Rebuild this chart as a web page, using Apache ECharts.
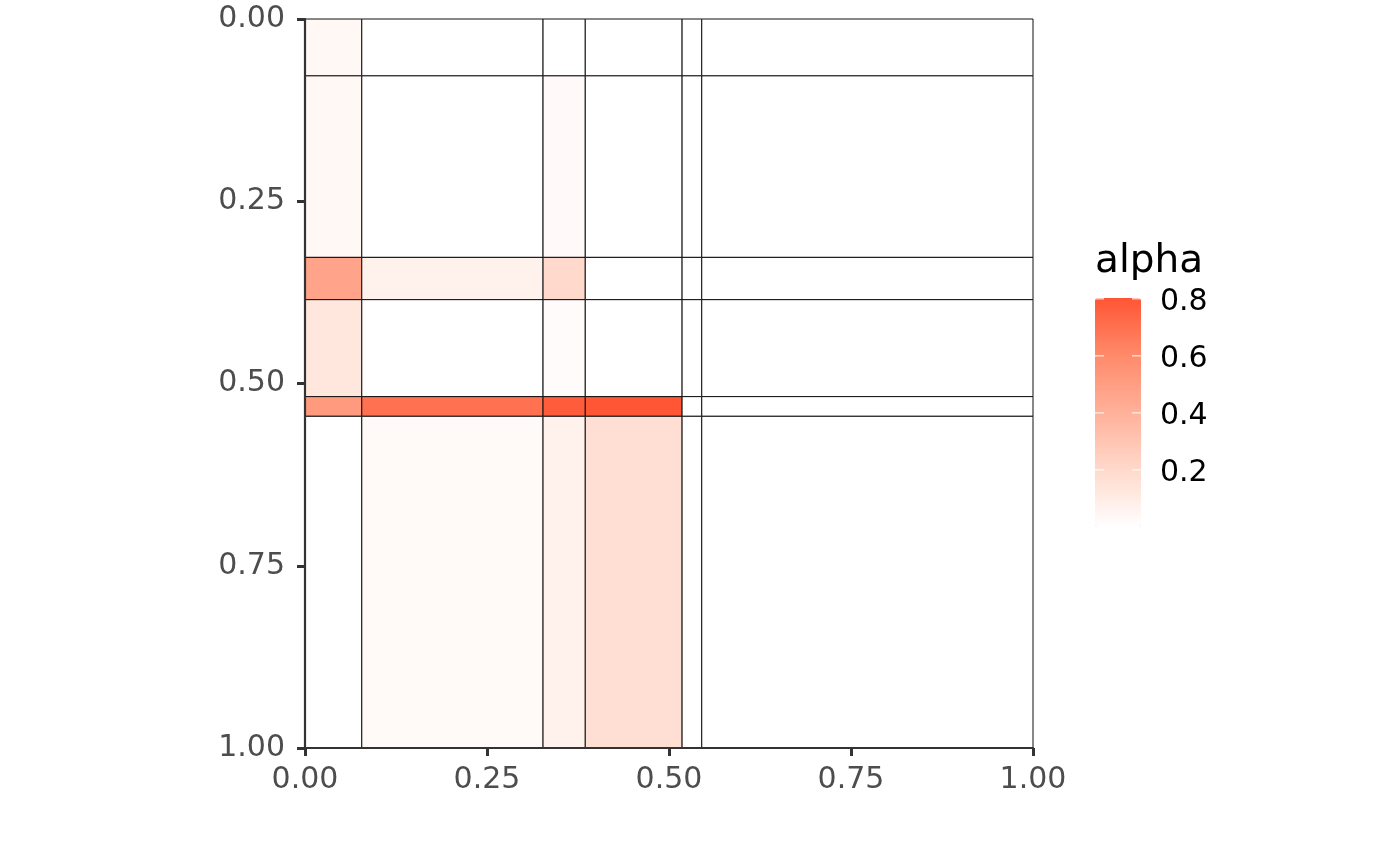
<!DOCTYPE html>
<html>
<head>
<meta charset="utf-8">
<script src="https://cdn.jsdelivr.net/npm/echarts@6/dist/echarts.min.js"></script>
<style>
html,body{margin:0;padding:0;background:#fff;}
#chart{width:1400px;height:865px;}
</style>
</head>
<body>
<div id="chart"></div>
<script>
// ---- data ----
var xBreaks = [0, 0.078, 0.327, 0.385, 0.518, 0.545, 1];
var yBreaks = [0, 0.078, 0.327, 0.385, 0.518, 0.545, 1];
// rows = y bands (top to bottom), columns = x bands (left to right)
var alphaRow0 = [0.038, 0, 0, 0, 0, 0];
var alphaRow1 = [0.038, 0, 0.025, 0, 0, 0];
var alphaRow2 = [0.47, 0.076, 0.2, 0, 0, 0];
var alphaRow3 = [0.128, 0, 0.02, 0, 0, 0];
var alphaRow4 = [0.52, 0.70, 0.78, 0.803, 0, 0];
var alphaRow5 = [0, 0.028, 0.07, 0.175, 0, 0];
var alphaRows = [alphaRow0, alphaRow1, alphaRow2, alphaRow3, alphaRow4, alphaRow5];
var axisTicks = [0, 0.25, 0.5, 0.75, 1];
var legendTicks = [0.2, 0.4, 0.6, 0.8];
var alphaMin = 0, alphaMax = 0.803;
var legendTitle = 'alpha';

// ---- build ----
var cells = [];
for (var r = 0; r < alphaRows.length; r++) {
  for (var c = 0; c < alphaRows[r].length; c++) {
    cells.push([xBreaks[c], xBreaks[c + 1], yBreaks[r], yBreaks[r + 1], alphaRows[r][c]]);
  }
}

var FONT = 'DejaVu Sans';
var bar = {left: 1095, top: 298, width: 46, height: 229};
var graphics = [{
  type: 'text', left: 1095, top: 242,
  style: {text: legendTitle, font: '39px "' + FONT + '"', fill: '#000'}
}];
legendTicks.forEach(function (v) {
  var y = bar.top + (alphaMax - v) / (alphaMax - alphaMin) * bar.height;
  graphics.push({type: 'text', x: 1160, y: y + 3,
    style: {text: v.toFixed(1), font: '30px "' + FONT + '"', fill: '#000', textVerticalAlign: 'middle', verticalAlign: 'middle'}, z: 10});
  graphics.push({type: 'line', shape: {x1: bar.left, y1: y, x2: bar.left + 9, y2: y}, style: {stroke: '#fff', lineWidth: 1}, z: 10});
  graphics.push({type: 'line', shape: {x1: bar.left + bar.width - 9, y1: y, x2: bar.left + bar.width, y2: y}, style: {stroke: '#fff', lineWidth: 1}, z: 10});
});

var chart = echarts.init(document.getElementById('chart'), null, {renderer: 'canvas'});
var axisCommon = {
  type: 'value', min: 0, max: 1, interval: 0.25, z: 5,
  splitLine: {show: false},
  axisLine: {show: true, onZero: false, lineStyle: {color: '#333', width: 2.2}},
  axisTick: {show: true, length: 8, lineStyle: {color: '#333', width: 3}},
  axisLabel: {color: '#4D4D4D', fontSize: 30, fontFamily: FONT,
    formatter: function (v) { return v.toFixed(2); }}
};
chart.setOption({
  animation: false,
  grid: {left: 305, right: 367, top: 19, bottom: 117},
  xAxis: echarts.util.merge({axisLabel: {margin: 17}}, axisCommon, true),
  yAxis: echarts.util.merge({inverse: true, axisLabel: {margin: 20}}, axisCommon, true),
  visualMap: {
    type: 'continuous', min: alphaMin, max: alphaMax, dimension: 4,
    calculable: false, showLabel: false, text: null,
    left: bar.left, top: bar.top, itemWidth: bar.width, itemHeight: bar.height, padding: 0,
    inRange: {color: ['#FFFFFF', '#FFD9CC', '#FFB19A', '#FF8A6A', '#FF5635']},
    seriesIndex: 0
  },
  graphic: graphics,
  series: [{
    type: 'custom',
    data: cells,
    encode: {x: [0, 1], y: [2, 3]},
    renderItem: function (params, api) {
      var p0 = api.coord([api.value(0), api.value(2)]);
      var p1 = api.coord([api.value(1), api.value(3)]);
      return {
        type: 'rect',
        shape: {x: p0[0], y: p0[1], width: p1[0] - p0[0], height: p1[1] - p0[1]},
        style: {fill: api.visual('color'), stroke: '#111', lineWidth: 1}
      };
    },
    z: 1
  }]
});
</script>
</body>
</html>
